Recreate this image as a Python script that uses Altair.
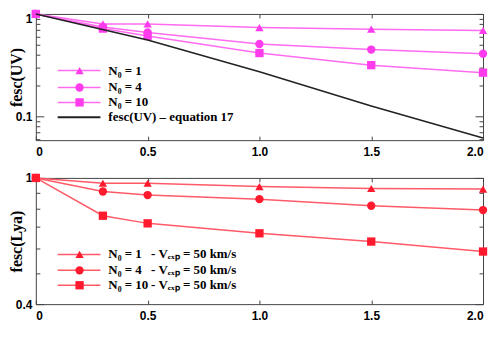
import altair as alt
import pandas as pd

# ---------------- data ----------------
x_vals = [0.0, 0.3, 0.5, 1.0, 1.5, 2.0]
uv_n1 = [1.0, 0.80, 0.80, 0.736, 0.71, 0.69]
uv_n4 = [1.0, 0.747, 0.66, 0.51, 0.45, 0.41]
uv_n10 = [1.0, 0.72, 0.61, 0.416, 0.317, 0.268]
eq17_x = [0.0, 0.5, 1.0, 1.5, 2.0]
eq17_y = [1.0, 0.557, 0.274, 0.127, 0.062]
lya_n1 = [1.0, 0.962, 0.962, 0.939, 0.926, 0.922]
lya_n4 = [1.0, 0.906, 0.883, 0.857, 0.817, 0.792]
lya_n10 = [1.0, 0.760, 0.719, 0.669, 0.630, 0.586]

series_names = ["N0=1", "N0=4", "N0=10"]
shapes = ["triangle-up", "circle", "square"]
legend_labels = ["N\u2080 = 1", "N\u2080 = 4", "N\u2080 = 10"]
eq17_label = "fesc(UV) \u2013 equation 17"
vexp_label = "- V\u2091\u2093\u209a = 50 km/s"

x_tick_values = [0.0, 0.5, 1.0, 1.5, 2.0]
uv_y_labels = [0.1, 1.0]
uv_y_ticks = [0.06, 0.07, 0.08, 0.09, 0.1, 0.2, 0.3, 0.4, 0.5, 0.6, 0.7, 0.8, 0.9, 1.0]
lya_y_labels = [0.4, 1.0]
lya_y_ticks = [0.4, 0.5, 0.6, 0.7, 0.8, 0.9, 1.0]


def long_df(series_list):
    rows = []
    for name, ys in zip(series_names, series_list):
        for x, y in zip(x_vals, ys):
            rows.append({"x": x, "y": y, "series": name})
    return pd.DataFrame(rows)


uv_df = long_df([uv_n1, uv_n4, uv_n10])
lya_df = long_df([lya_n1, lya_n4, lya_n10])
eq_df = pd.DataFrame({"x": eq17_x, "y": eq17_y})
one = pd.DataFrame({"k": [0]})

# ---------------- style ----------------
W, H = 450, 127
SANS = "Liberation Sans"
SERIF = "Liberation Serif"
FRAME = "#444444"
MAG_LINE, MAG_MARK = "#ff6cf0", "#ff3ced"
RED_LINE, RED_MARK = "#ff5a68", "#ff1a2e"


def tick_axis(orient, offset, values, major_test=None):
    size = 4
    if major_test is not None:
        size = {"condition": {"test": major_test, "value": 8}, "value": 4}
    return alt.Axis(orient=orient, offset=offset, values=values, labels=False,
                    domain=False, grid=False, title=None, ticks=True,
                    tickSize=size, tickColor=FRAME, tickWidth=1)


def panel(df, line_color, mark_color, ydomain, ylabels, yticks, major_test,
          ytitle, top_flush, extra_layers):
    xs = alt.Scale(domain=[0, 2], nice=False, zero=False)
    ys = alt.Scale(type="log", domain=ydomain, nice=False)
    x_main = alt.X("x:Q", scale=xs, axis=alt.Axis(
        orient="bottom", values=x_tick_values,
        labelExpr="datum.value == 0 ? '0' : format(datum.value, '.1f')",
        ticks=False, domain=False, grid=False, title=None, labelPadding=6,
        labelFont=SANS, labelFontSize=12, labelFontWeight="bold", labelColor="black"))
    baseline = "middle"
    if top_flush:
        baseline = {"condition": {"test": "datum.value >= 1", "value": "top"}, "value": "middle"}
    y_main = alt.Y("y:Q", scale=ys, axis=alt.Axis(
        orient="left", values=ylabels, format="~g", ticks=False, domain=False,
        grid=False, title=ytitle, labelBaseline=baseline, labelPadding=4,
        labelFont=SANS, labelFontSize=12, labelFontWeight="bold", labelColor="black",
        titleFont=SERIF, titleFontSize=16, titleFontWeight="bold", titleColor="black",
        titleX=-14, titleBaseline="alphabetic"))
    lines = alt.Chart(df).mark_line(color=line_color, strokeWidth=1.5).encode(
        x=x_main, y=y_main, detail="series:N")
    pts = alt.Chart(df).mark_point(filled=True, size=70, opacity=1, color=mark_color).encode(
        x=alt.X("x:Q", scale=xs, axis=None),
        y=alt.Y("y:Q", scale=ys, axis=None),
        shape=alt.Shape("series:N", scale=alt.Scale(domain=series_names, range=shapes), legend=None))
    t_in1 = alt.Chart(df).mark_point(opacity=0).encode(
        x=alt.X("x:Q", scale=xs, axis=tick_axis("top", -H, x_tick_values)),
        y=alt.Y("y:Q", scale=ys, axis=tick_axis("right", -W, yticks, major_test)))
    t_in2 = alt.Chart(df).mark_point(opacity=0).encode(
        x=alt.X("x:Q", scale=xs, axis=tick_axis("bottom", -H, x_tick_values)),
        y=alt.Y("y:Q", scale=ys, axis=tick_axis("left", -W, yticks, major_test)))
    extra = [e(xs, ys) for e in extra_layers]
    return alt.layer(lines, pts, t_in1, t_in2, *extra).resolve_axis(
        x="independent", y="independent").properties(width=W, height=H)


def legend_row(line_color, mark_color, shape, label, ry, label2=None, width=1.5):
    def make(xs, ys):
        parts = [alt.Chart(one).mark_rule(color=line_color, strokeWidth=width).encode(
            x=alt.value(22), x2=alt.value(65), y=alt.value(ry))]
        if shape is not None:
            parts.append(alt.Chart(one).mark_point(filled=True, size=70, opacity=1,
                                                   color=mark_color, shape=shape).encode(
                x=alt.value(44), y=alt.value(ry)))
        parts.append(alt.Chart(one).mark_text(align="left", baseline="middle", font=SERIF,
                                              fontSize=13, fontWeight="bold", color="black").encode(
            x=alt.value(73), y=alt.value(ry), text=alt.value(label)))
        if label2 is not None:
            parts.append(alt.Chart(one).mark_text(align="left", baseline="middle", font=SERIF,
                                                  fontSize=13, fontWeight="bold", color="black").encode(
                x=alt.value(116), y=alt.value(ry), text=alt.value(label2)))
        return alt.layer(*parts)
    return make


def eq_line(xs, ys):
    return alt.Chart(eq_df).mark_line(color="#222222", strokeWidth=1.6).encode(
        x=alt.X("x:Q", scale=xs, axis=None), y=alt.Y("y:Q", scale=ys, axis=None))


top_rows = [57, 74, 89]
top_extra = [eq_line]
for lab, shp, ry in zip(legend_labels, shapes, top_rows):
    top_extra.append(legend_row(MAG_LINE, MAG_MARK, shp, lab, ry))
top_extra.append(legend_row("#222222", None, None, eq17_label, 104, width=2))

bot_rows = [77, 93, 108]
bot_extra = []
for lab, shp, ry in zip(legend_labels, shapes, bot_rows):
    bot_extra.append(legend_row(RED_LINE, RED_MARK, shp, lab, ry, label2=vexp_label))

top = panel(uv_df, MAG_LINE, MAG_MARK, [0.059, 1.0], uv_y_labels, uv_y_ticks,
            "datum.value == 1 || datum.value == 0.1", "fesc(UV)", True, top_extra)
bottom = panel(lya_df, RED_LINE, RED_MARK, [0.4, 1.0], lya_y_labels, lya_y_ticks,
               "datum.value == 1 || datum.value == 0.4", "fesc(Lya)", False, bot_extra)

chart = alt.vconcat(top, bottom, spacing=13).configure_view(
    stroke=FRAME, strokeWidth=1).properties(padding={"left": 0, "top": 0, "right": 0, "bottom": 0})

chart.save("out.html", embed_options={"renderer": "svg", "actions": False})
